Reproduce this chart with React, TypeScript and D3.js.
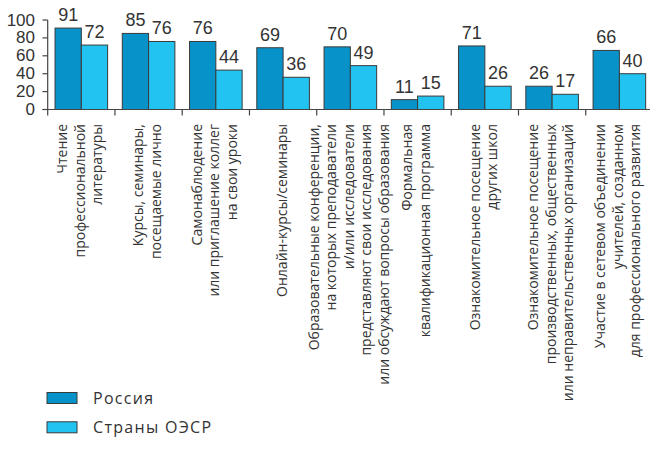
import React from "react";
import * as d3 from "d3";

const categories: string[][] = [
  ["Чтение", "профессиональной", "литературы"],
  ["Курсы, семинары,", "посещаемые лично"],
  ["Самонаблюдение", "или приглашение коллег", "на свои уроки"],
  ["Онлайн-курсы/семинары"],
  [
    "Образовательные конференции,",
    "на которых преподаватели",
    "и/или исследователи",
    "представляют свои исследования",
    "или обсуждают вопросы образования",
  ],
  ["Формальная", "квалификационная программа"],
  ["Ознакомительное посещение", "других школ"],
  ["Ознакомительное посещение", "производственных, общественных", "или неправительственных организаций"],
  ["Участие в сетевом объединении", "учителей, созданном", "для профессионального развития"],
];
const russia = [91, 85, 76, 69, 70, 11, 71, 26, 66];
const oecd = [72, 76, 44, 36, 49, 15, 26, 17, 40];
const seriesNames = ["Россия", "Страны ОЭСР"];
const yTicks = [0, 20, 40, 60, 80, 100];

const W = 650;
const H = 455;
const colors = ["#0793c9", "#22c3f0"];
const numFont = "'Liberation Sans Narrow', 'Arial Narrow', 'Liberation Sans', Arial, sans-serif";
const labelFont = "'Open Sans', 'Noto Sans', sans-serif";

export default function App() {
  const idx = categories.map((_, i) => String(i));
  const x0 = d3
    .scaleBand<string>()
    .domain(idx)
    .range([47.7, 653])
    .paddingInner(0.218)
    .paddingOuter(0.109);
  const x1 = d3.scaleBand<string>().domain(["0", "1"]).range([0, x0.bandwidth()]);
  const y = d3.scaleLinear().domain([0, 100]).range([109.5, 20]);
  const step = x0.step();
  const bandStart = (i: number) => 47.7 + i * step;
  const series = [russia, oecd];

  return (
    <svg
      width={W}
      height={H}
      style={{ position: "absolute", left: 0, top: 0, background: "#fff" }}
    >
      {/* bars */}
      {idx.map((c, i) => (
        <g key={c}>
          {series.map((s, k) => {
            const bx = (x0(c) as number) + (x1(String(k)) as number);
            const bw = x1.bandwidth();
            return (
              <g key={k}>
                <rect
                  x={bx}
                  y={y(s[i])}
                  width={bw}
                  height={y(0) - y(s[i])}
                  fill={colors[k]}
                  stroke="#3a3a3a"
                  strokeWidth={1}
                />
                <text
                  x={bx + bw / 2}
                  y={y(s[i]) - 7}
                  textAnchor="middle"
                  fontFamily={numFont}
                  fontSize={18}
                  fill="#333"
                >
                  {s[i]}
                </text>
              </g>
            );
          })}
        </g>
      ))}

      {/* y axis */}
      <line x1={47.7} x2={47.7} y1={y(100)} y2={y(0)} stroke="#444" strokeWidth={1.2} />
      {yTicks.map((t) => (
        <g key={t}>
          <line x1={42.5} x2={47.7} y1={y(t)} y2={y(t)} stroke="#444" strokeWidth={1.2} />
          <text
            x={35}
            y={y(t)}
            textAnchor="end"
            dominantBaseline="central"
            fontFamily={numFont}
            fontSize={17}
            fill="#333"
          >
            {t}
          </text>
        </g>
      ))}

      {/* x axis */}
      <line x1={42.5} x2={650} y1={y(0)} y2={y(0)} stroke="#444" strokeWidth={1.2} />
      {d3.range(categories.length).map((i) => (
        <line
          key={i}
          x1={bandStart(i)}
          x2={bandStart(i)}
          y1={y(0)}
          y2={y(0) + 6}
          stroke="#444"
          strokeWidth={1.2}
        />
      ))}

      {/* category labels */}
      {categories.map((lines, i) => {
        const cx = bandStart(i) + step / 2 - 2;
        const lh = 17.5;
        return (
          <g key={i}>
            {lines.map((ln, j) => {
              const lx = cx + (j - (lines.length - 1) / 2) * lh;
              return (
                <text
                  key={j}
                  transform={`translate(${lx},124) rotate(-90)`}
                  textAnchor="end"
                  dominantBaseline="central"
                  fontFamily={labelFont}
                  fontSize={14}
                  fill="#333"
                >
                  {ln}
                </text>
              );
            })}
          </g>
        );
      })}

      {/* legend */}
      {seriesNames.map((nm, k) => (
        <g key={nm}>
          <rect
            x={47}
            y={392.5 + k * 29.3}
            width={30}
            height={11}
            fill={colors[k]}
            stroke="#3a3a3a"
            strokeWidth={1}
          />
          <text
            x={93}
            y={398 + k * 29.3}
            dominantBaseline="central"
            fontFamily={labelFont}
            fontSize={16}
            letterSpacing={1.3}
            fill="#333"
          >
            {nm}
          </text>
        </g>
      ))}
    </svg>
  );
}
